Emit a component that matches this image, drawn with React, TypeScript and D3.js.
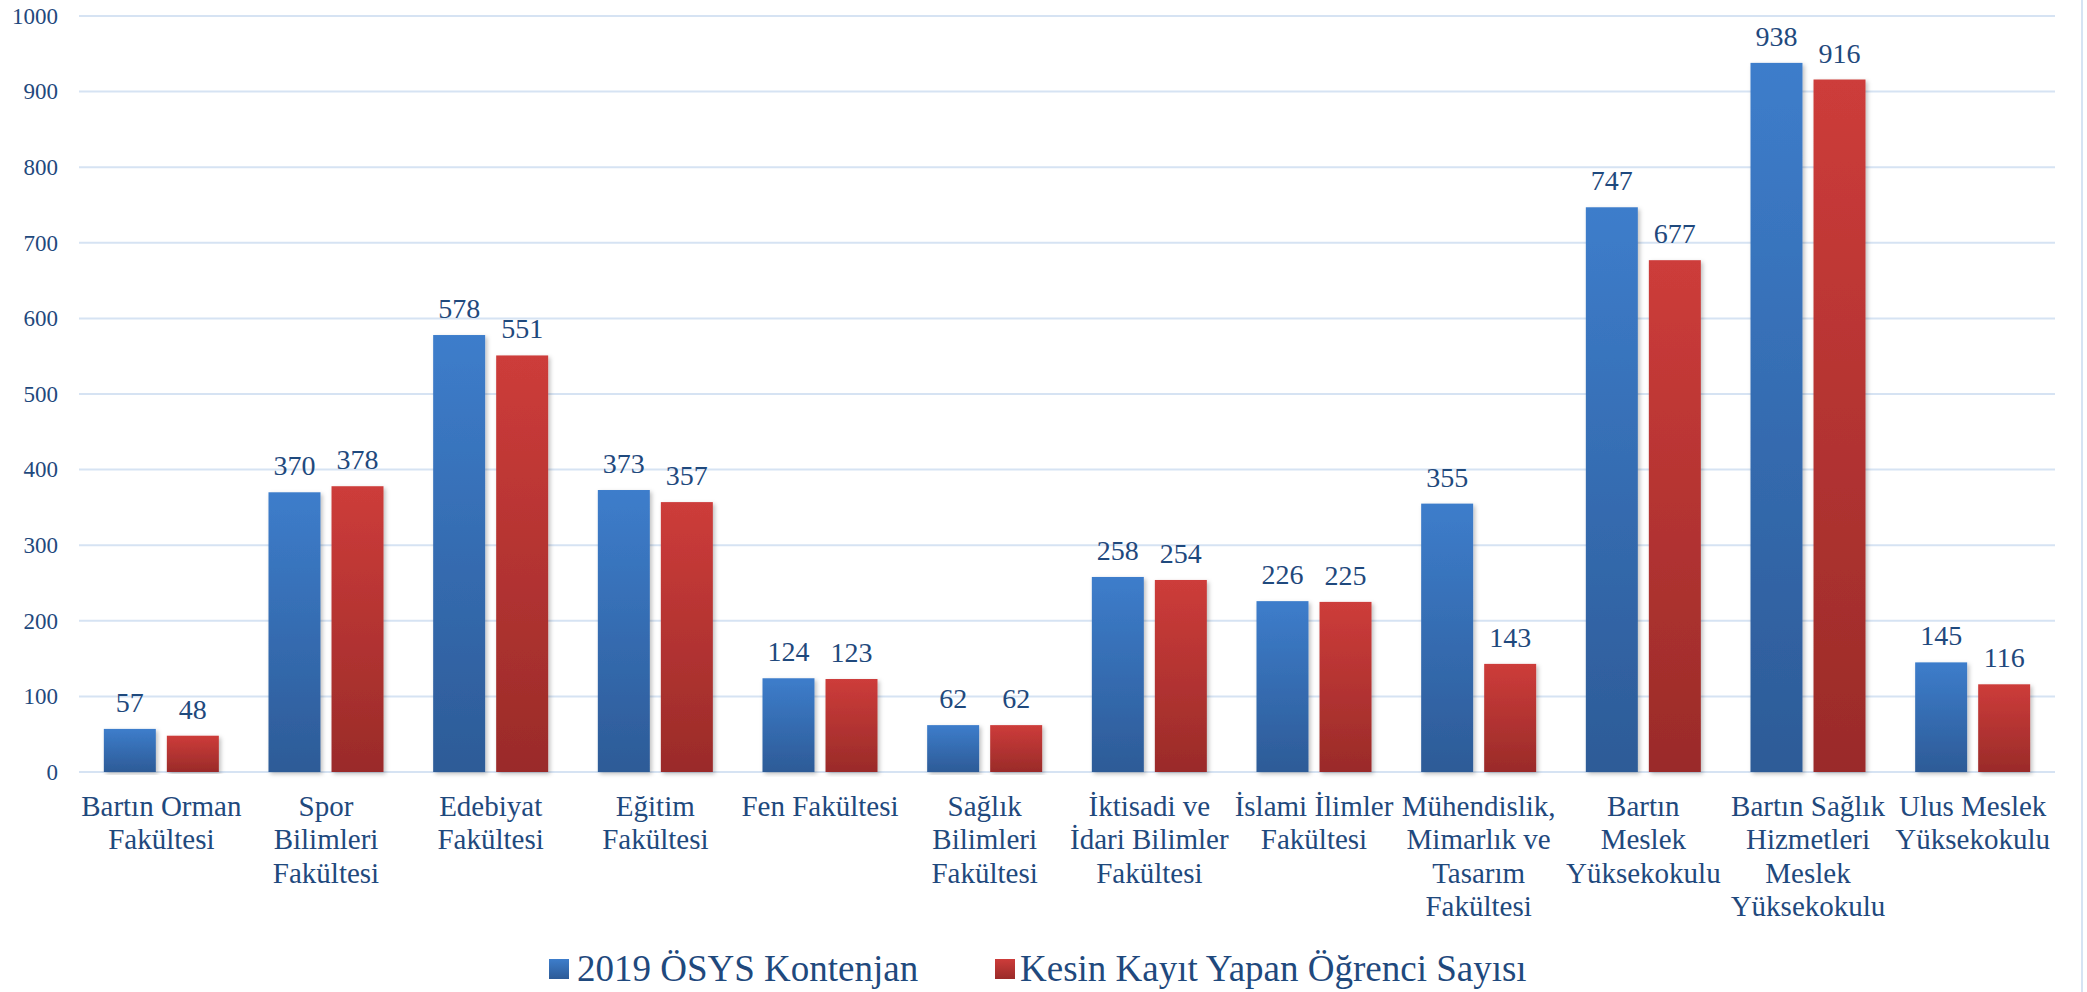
import * as d3 from "d3";
import { useEffect, useRef } from "react";

const categories: string[][] = [
  ["Bartın Orman", "Fakültesi"],
  ["Spor", "Bilimleri", "Fakültesi"],
  ["Edebiyat", "Fakültesi"],
  ["Eğitim", "Fakültesi"],
  ["Fen Fakültesi"],
  ["Sağlık", "Bilimleri", "Fakültesi"],
  ["İktisadi ve", "İdari Bilimler", "Fakültesi"],
  ["İslami İlimler", "Fakültesi"],
  ["Mühendislik,", "Mimarlık ve", "Tasarım", "Fakültesi"],
  ["Bartın", "Meslek", "Yüksekokulu"],
  ["Bartın Sağlık", "Hizmetleri", "Meslek", "Yüksekokulu"],
  ["Ulus Meslek", "Yüksekokulu"],
];

const kontenjan = [57, 370, 578, 373, 124, 62, 258, 226, 355, 747, 938, 145];
const kayit = [48, 378, 551, 357, 123, 62, 254, 225, 143, 677, 916, 116];

const seriesNames = ["2019 ÖSYS Kontenjan", "Kesin Kayıt Yapan Öğrenci Sayısı"];
const yTicks = [0, 100, 200, 300, 400, 500, 600, 700, 800, 900, 1000];

const WIDTH = 2087;
const HEIGHT = 992;
const TEXT = "#1f497d";
const GRID = "#d6e3f3";
const FONT = "'Liberation Serif', 'Times New Roman', serif";

export default function App() {
  const svgRef = useRef<SVGSVGElement>(null);

  useEffect(() => {
    if (!svgRef.current) return;
    const svg = d3.select(svgRef.current);
    svg.selectAll("*").remove();

    const left = 79;
    const right = 2055;
    const top = 16;
    const bottom = 772;

    const defs = svg.append("defs");
    const grads = [
      { id: "gBlue", top: "#3d7dcb", bottom: "#2d5b97" },
      { id: "gRed", top: "#cd3c3a", bottom: "#9a2b29" },
    ];
    for (const g of grads) {
      const lg = defs
        .append("linearGradient")
        .attr("id", g.id)
        .attr("x1", 0)
        .attr("y1", 0)
        .attr("x2", 0)
        .attr("y2", 1);
      lg.append("stop").attr("offset", "0%").attr("stop-color", g.top);
      lg.append("stop").attr("offset", "100%").attr("stop-color", g.bottom);
    }
    defs
      .append("filter")
      .attr("id", "shadow")
      .attr("x", "-20%")
      .attr("y", "-5%")
      .attr("width", "140%")
      .attr("height", "110%")
      .append("feDropShadow")
      .attr("dx", 2)
      .attr("dy", 2)
      .attr("stdDeviation", 2)
      .attr("flood-color", "#000")
      .attr("flood-opacity", 0.25);

    const x0 = d3
      .scaleBand<number>()
      .domain(d3.range(categories.length))
      .range([left, right]);
    const x1 = d3
      .scaleBand<number>()
      .domain([0, 1])
      .range([0, x0.bandwidth()])
      .paddingInner(0.175)
      .paddingOuter(0.394);
    const y = d3.scaleLinear().domain([0, 1000]).range([bottom, top]);

    // Grid lines
    svg
      .append("g")
      .selectAll("line")
      .data(yTicks)
      .join("line")
      .attr("x1", left)
      .attr("x2", right)
      .attr("y1", (d) => y(d))
      .attr("y2", (d) => y(d))
      .style("stroke", GRID)
      .style("stroke-width", 2);

    // Y tick labels
    svg
      .append("g")
      .selectAll("text")
      .data(yTicks)
      .join("text")
      .attr("x", 58)
      .attr("y", (d) => y(d))
      .attr("dy", "0.34em")
      .attr("text-anchor", "end")
      .style("font-family", FONT)
      .style("font-size", "23px")
      .style("fill", TEXT)
      .text((d) => d);

    // Right border
    svg
      .append("line")
      .attr("x1", 2082)
      .attr("x2", 2082)
      .attr("y1", 0)
      .attr("y2", HEIGHT)
      .style("stroke", GRID)
      .style("stroke-width", 2);

    const series = [kontenjan, kayit];
    const fills = ["url(#gBlue)", "url(#gRed)"];

    series.forEach((vals, s) => {
      const g = svg.append("g");
      g.selectAll("rect")
        .data(vals)
        .join("rect")
        .attr("x", (_, i) => (x0(i) ?? 0) + (x1(s) ?? 0))
        .attr("width", x1.bandwidth())
        .attr("y", (d) => y(d))
        .attr("height", (d) => y(0) - y(d))
        .attr("fill", fills[s])
        .attr("filter", "url(#shadow)");

      g.selectAll("text")
        .data(vals)
        .join("text")
        .attr("x", (_, i) => (x0(i) ?? 0) + (x1(s) ?? 0) + x1.bandwidth() / 2)
        .attr("y", (d) => y(d) - 17)
        .attr("text-anchor", "middle")
        .style("font-family", FONT)
        .style("font-size", "28px")
        .style("fill", TEXT)
        .text((d) => d);
    });

    // X category labels
    const xl = svg.append("g");
    categories.forEach((lines, i) => {
      const t = xl
        .append("text")
        .attr("text-anchor", "middle")
        .style("font-family", FONT)
        .style("font-size", "29px")
        .style("fill", TEXT);
      lines.forEach((ln, j) => {
        t.append("tspan")
          .attr("x", (x0(i) ?? 0) + x0.bandwidth() / 2)
          .attr("y", 816 + j * 33.4)
          .text(ln);
      });
    });

    // Legend
    const legendItems = [
      { sq: 549, tx: 577, fill: fills[0] },
      { sq: 995, tx: 1020, fill: fills[1] },
    ];
    legendItems.forEach((it, i) => {
      svg
        .append("rect")
        .attr("x", it.sq)
        .attr("y", 959)
        .attr("width", 20)
        .attr("height", 20)
        .attr("fill", it.fill);
      svg
        .append("text")
        .attr("x", it.tx)
        .attr("y", 981)
        .style("font-family", FONT)
        .style("font-size", "37px")
        .style("fill", TEXT)
        .text(seriesNames[i]);
    });
  }, []);

  return (
    <svg
      ref={svgRef}
      width={WIDTH}
      height={HEIGHT}
      style={{ position: "absolute", left: 0, top: 0, background: "#fff" }}
    />
  );
}
